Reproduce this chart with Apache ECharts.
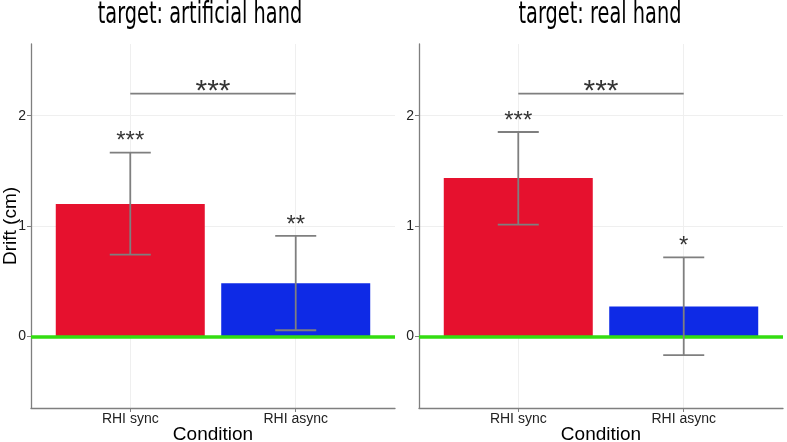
<!DOCTYPE html>
<html><head><meta charset="utf-8">
<script src="https://cdn.jsdelivr.net/npm/echarts@6/dist/echarts.min.js"></script>
<style>html,body{margin:0;padding:0;background:#fff}#c{width:787px;height:442px}</style>
</head><body><div id="c"></div>
<script>
const categories = ['RHI sync', 'RHI async'];
const panelTitles = ['target: artificial hand', 'target: real hand'];
const artificialMean = [1.20, 0.48];
const artificialLow = [0.74, 0.055];
const artificialHigh = [1.665, 0.91];
const artificialStars = ['***', '**'];
const artificialStarY = [1.81, 1.054];
const realMean = [1.435, 0.27];
const realLow = [1.012, -0.17];
const realHigh = [1.852, 0.715];
const realStars = ['***', '*'];
const realStarY = [1.99, 0.858];
const pairBracketY = [2.2, 2.2];
const pairStars = ['***', '***'];
const pairStarY = [2.26, 2.26];
const yTicks = [0, 1, 2];
const xTicks = [1, 2];
const barColors = ['#E6112E', '#0E2AE6'];

const FONT = 'Liberation Sans';
const GRAY = '#7F7F7F';

const panels = [
  {mean: artificialMean, low: artificialLow, high: artificialHigh, stars: artificialStars, starY: artificialStarY},
  {mean: realMean, low: realLow, high: realHigh, stars: realStars, starY: realStarY}
];

const grids = [
  {left: 31, top: 44, width: 364, height: 364, outerBoundsMode: 'none', containLabel: false},
  {left: 419, top: 44, width: 364, height: 364, outerBoundsMode: 'none', containLabel: false}
];

const xAxes = [], yAxes = [], series = [];
panels.forEach((p, k) => {
  xAxes.push({
    gridIndex: k, type: 'value', min: 0.4, max: 2.6,
    name: 'Condition', nameLocation: 'middle', nameGap: 17, nameMoveOverlap: false,
    nameTextStyle: {fontFamily: FONT, fontSize: 19, color: '#000'},
    axisLine: {show: true, onZero: false, lineStyle: {color: GRAY, width: 1.3}},
    axisTick: {show: true, customValues: xTicks, length: 4, lineStyle: {color: GRAY}},
    axisLabel: {customValues: xTicks, fontFamily: FONT, fontSize: 14, color: '#222', margin: 4,
      formatter: v => categories[Math.round(v) - 1]},
    splitLine: {show: true, lineStyle: {color: '#EFEFEF', width: 1}}
  });
  yAxes.push({
    gridIndex: k, type: 'value', min: -0.65, max: 2.65,
    name: k === 0 ? 'Drift (cm)' : '', nameLocation: 'middle', nameGap: 11, nameRotate: 90, nameMoveOverlap: false,
    nameTextStyle: {fontFamily: FONT, fontSize: 19, color: '#000'},
    axisLine: {show: true, onZero: false, lineStyle: {color: GRAY, width: 1.3}},
    axisTick: {show: true, customValues: yTicks, length: 4, lineStyle: {color: GRAY}},
    axisLabel: {customValues: yTicks, fontFamily: FONT, fontSize: 14, color: '#222', margin: 5},
    splitLine: {show: true, lineStyle: {color: '#EFEFEF', width: 1}}
  });
  series.push({
    type: 'bar', xAxisIndex: k, yAxisIndex: k, barWidth: 149,
    data: p.mean.map((v, i) => ({value: [i + 1, v], itemStyle: {color: barColors[i]}})),
    markLine: {silent: true, symbol: 'none', label: {show: false}, z: 5,
      lineStyle: {color: '#33DD11', width: 3.5, type: 'solid'}, data: [{yAxis: 0}]}
  });
  series.push({
    type: 'custom', xAxisIndex: k, yAxisIndex: k, z: 6,
    encode: {x: 0, y: [1, 2]},
    data: p.mean.map((v, i) => [i + 1, p.low[i], p.high[i]]),
    renderItem: (params, api) => {
      const x = api.value(0);
      const lo = api.coord([x, api.value(1)]);
      const hi = api.coord([x, api.value(2)]);
      const half = api.size([0.124, 0])[0];
      const style = {stroke: GRAY, lineWidth: 1.8, fill: null};
      return {type: 'group', children: [
        {type: 'line', shape: {x1: hi[0], y1: hi[1], x2: lo[0], y2: lo[1]}, style},
        {type: 'line', shape: {x1: hi[0] - half, y1: hi[1], x2: hi[0] + half, y2: hi[1]}, style},
        {type: 'line', shape: {x1: lo[0] - half, y1: lo[1], x2: lo[0] + half, y2: lo[1]}, style}
      ]};
    }
  });
  series.push({
    type: 'line', xAxisIndex: k, yAxisIndex: k, symbol: 'none', z: 6,
    lineStyle: {color: GRAY, width: 1.6},
    data: [[1, pairBracketY[k]], [2, pairBracketY[k]]]
  });
  series.push({
    type: 'scatter', xAxisIndex: k, yAxisIndex: k, symbolSize: 0, z: 7,
    label: {show: true, position: 'inside', offset: [0, 5], formatter: '{b}', fontFamily: FONT, fontSize: 24, color: '#000'},
    data: p.stars.map((s, i) => ({name: s, value: [i + 1, p.starY[i]]}))
  });
  series.push({
    type: 'scatter', xAxisIndex: k, yAxisIndex: k, symbolSize: 0, z: 7,
    label: {show: true, position: 'inside', offset: [0, 5], formatter: '{b}', fontFamily: FONT, fontSize: 30, color: '#000'},
    data: [{name: pairStars[k], value: [1.5, pairStarY[k]]}]
  });
});

const chart = echarts.init(document.getElementById('c'), null, {renderer: 'canvas'});
chart.setOption({
  animation: false,
  backgroundColor: '#fff',
  grid: grids,
  xAxis: xAxes,
  yAxis: yAxes,
  series: series,
  graphic: [
    {type: 'text', x: 200, y: 15, scaleX: 0.645,
      style: {text: panelTitles[0], fontFamily: 'DejaVu Sans', fontSize: 30, fill: '#000', textAlign: 'center', textVerticalAlign: 'middle'}},
    {type: 'text', x: 600, y: 15, scaleX: 0.645,
      style: {text: panelTitles[1], fontFamily: 'DejaVu Sans', fontSize: 30, fill: '#000', textAlign: 'center', textVerticalAlign: 'middle'}}
  ]
});
</script></body></html>
